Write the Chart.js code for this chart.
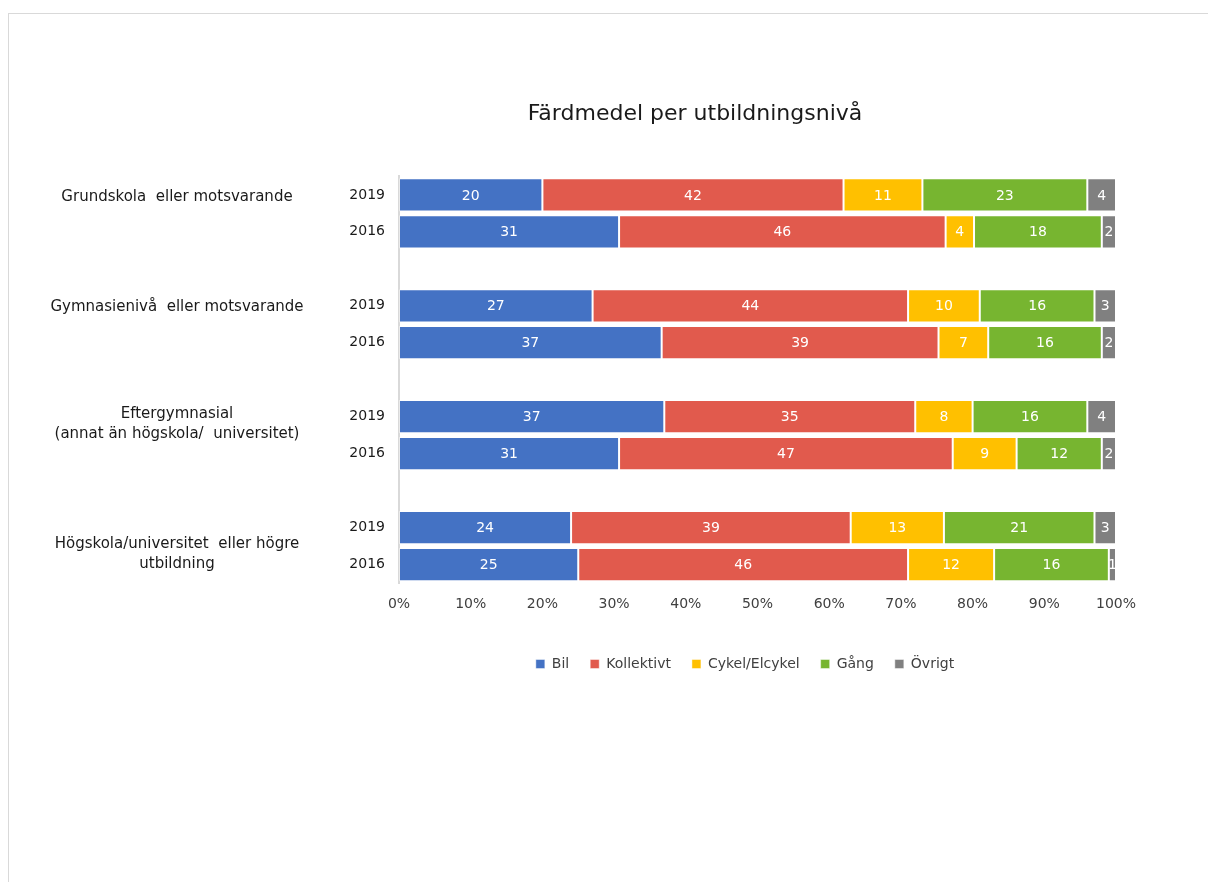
<!DOCTYPE html>
<html lang="sv">
<head>
<meta charset="utf-8">
<title>Färdmedel per utbildningsnivå</title>
<script src="https://cdn.jsdelivr.net/npm/chart.js@4.4.1/dist/chart.umd.min.js"></script>
<style>
  html, body { margin: 0; padding: 0; background: #fff; overflow: hidden; }
  #frame { position: absolute; left: 8px; top: 13px; width: 1220px; height: 900px; border: 1px solid #d9d9d9; }
  #chart { position: absolute; left: 0; top: 0; }
</style>
</head>
<body>
<div id="frame"></div>
<canvas id="chart" width="1208" height="882"></canvas>
<script>
const chartTitle = 'Färdmedel per utbildningsnivå'

// utbildningsnivåer (grupper) och år inom varje grupp
const groups = [
    'Grundskola  eller motsvarande',
    'Gymnasienivå  eller motsvarande',
    ['Eftergymnasial', '(annat än högskola/  universitet)'],
    ['Högskola/universitet  eller högre', 'utbildning']
]
const years = ['2019', '2016']

// värden per rad: grupp 1 2019, grupp 1 2016, grupp 2 2019, ...
const bil        = [20, 31, 27, 37, 37, 31, 24, 25]
const kollektivt = [42, 46, 44, 39, 35, 47, 39, 46]
const cykel      = [11, 4, 10, 7, 8, 9, 13, 12]
const gang       = [23, 18, 16, 16, 16, 12, 21, 16]
const ovrigt     = [4, 2, 3, 2, 4, 2, 3, 1]

const seriesNames = ['Bil', 'Kollektivt', 'Cykel/Elcykel', 'Gång', 'Övrigt']
const seriesColors = ['#4472C4', '#E15A4D', '#FFC000', '#77B530', '#808080']

const series = [bil, kollektivt, cykel, gang, ovrigt]
const rowTotals = bil.map((_, i) => series.reduce((sum, arr) => sum + arr[i], 0))

// kategoriaxel: två år per grupp, tom rad mellan grupperna
const labels = []
const rowIndex = []
groups.forEach((g, gi) => {
    if (gi > 0) {
        labels.push('')
        rowIndex.push(null)
    }
    years.forEach((y, yi) => {
        labels.push(y)
        rowIndex.push(gi * years.length + yi)
    })
})

const datasets = series.map((arr, si) => ({
    label: seriesNames[si],
    data: rowIndex.map(r => r === null ? null : arr[r] / rowTotals[r] * 100),
    rawValues: rowIndex.map(r => r === null ? null : arr[r]),
    backgroundColor: seriesColors[si],
    borderColor: 'rgba(255,255,255,0.45)',
    borderWidth: 1,
    borderSkipped: false,
    barPercentage: 0.9,
    categoryPercentage: 1
}))

const FONT = 'DejaVu Sans'

// värdeetiketter mitt i varje segment
const valueLabels = {
    id: 'valueLabels',
    afterDatasetsDraw(chart) {
        const ctx = chart.ctx
        ctx.save()
        ctx.font = '14px "' + FONT + '"'
        ctx.fillStyle = '#ffffff'
        ctx.textAlign = 'center'
        ctx.textBaseline = 'middle'
        chart.data.datasets.forEach((ds, di) => {
            chart.getDatasetMeta(di).data.forEach((bar, i) => {
                const v = ds.rawValues[i]
                if (v === null) return
                const p = bar.getProps(['x', 'y', 'base'], true)
                ctx.fillText(String(v), (p.x + p.base) / 2, p.y + 1)
            })
        })
        ctx.restore()
    }
}

// gruppetiketter till vänster om årtalen
const groupLabels = {
    id: 'groupLabels',
    afterDraw(chart) {
        const ctx = chart.ctx
        const yScale = chart.scales.y
        const nudge = [-16, -17, -11, 8]
        ctx.save()
        ctx.font = '15px "' + FONT + '"'
        ctx.fillStyle = '#1a1a1a'
        ctx.textAlign = 'center'
        ctx.textBaseline = 'middle'
        groups.forEach((g, gi) => {
            const first = gi * (years.length + 1)
            const mid = (yScale.getPixelForValue(first) + yScale.getPixelForValue(first + 1)) / 2
            const lines = Array.isArray(g) ? g : [g]
            const lh = 20
            const top = mid + nudge[gi] - (lines.length - 1) * lh / 2
            lines.forEach((line, li) => ctx.fillText(line, 177, top + li * lh))
        })
        ctx.restore()
    }
}

// flytta titel och förklaring i sidled som i originalet
const shiftBoxes = {
    id: 'shiftBoxes',
    afterLayout(chart) {
        const t = chart.titleBlock
        if (t) {
            const d = 695 - (t.left + t.right) / 2
            t.left += d
            t.right += d
        }
        const l = chart.legend
        if (l) {
            const d = 745 - (l.left + l.right) / 2
            l.left += d
            l.right += d
        }
    }
}

new Chart(document.getElementById('chart'), {
    type: 'bar',
    data: { labels: labels, datasets: datasets },
    options: {
        indexAxis: 'y',
        responsive: false,
        animation: false,
        devicePixelRatio: 1,
        layout: { padding: { top: 0, left: 339, right: 92, bottom: 201 } },
        scales: {
            x: {
                type: 'linear',
                stacked: true,
                min: 0,
                max: 100,
                ticks: {
                    stepSize: 10,
                    callback: v => v + '%',
                    font: { family: FONT, size: 14 },
                    color: '#404040',
                    padding: 13
                },
                grid: { display: false, drawTicks: false },
                border: { display: false },
                afterFit: s => { s.height = 53 }
            },
            y: {
                stacked: true,
                ticks: {
                    font: { family: FONT, size: 14 },
                    color: '#1a1a1a',
                    padding: 14,
                    autoSkip: false
                },
                grid: { display: false, drawTicks: false },
                border: { display: true, color: '#d9d9d9', width: 2 },
                afterFit: s => { s.width = 60 }
            }
        },
        plugins: {
            title: {
                display: true,
                text: chartTitle,
                font: { family: FONT, size: 22, weight: 'normal' },
                color: '#1a1a1a',
                padding: { top: 101, bottom: 49 }
            },
            legend: {
                position: 'bottom',
                fullSize: false,
                labels: {
                    boxWidth: 9,
                    boxHeight: 9,
                    padding: 21,
                    font: { family: FONT, size: 14 },
                    color: '#404040'
                }
            },
            tooltip: { enabled: false }
        }
    },
    plugins: [valueLabels, groupLabels, shiftBoxes]
})
</script>
</body>
</html>
